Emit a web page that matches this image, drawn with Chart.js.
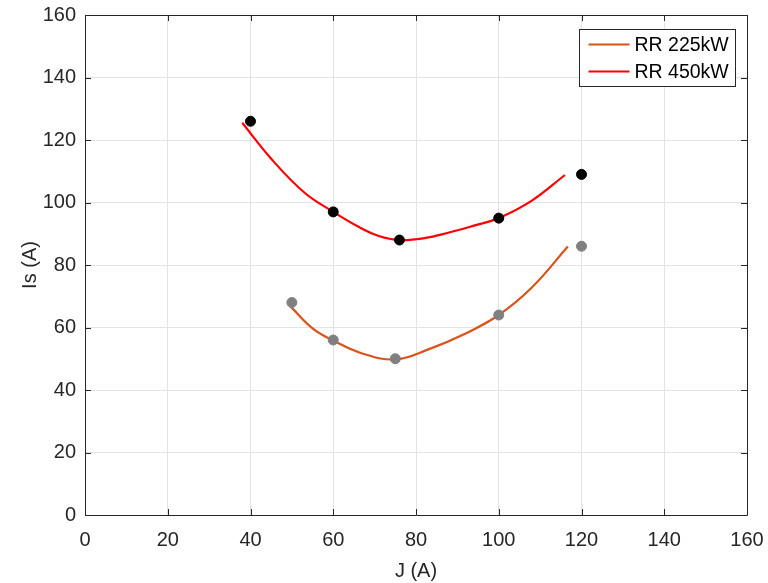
<!DOCTYPE html>
<html>
<head>
<meta charset="utf-8">
<script src="https://cdn.jsdelivr.net/npm/chart.js@4/dist/chart.umd.min.js"></script>
<style>
  html, body { margin: 0; padding: 0; background: #fff; }
  #wrap { width: 768px; height: 583px; }
</style>
</head>
<body>
<div id="wrap"><canvas id="myChart" width="768" height="583"></canvas></div>
<script>
// measured points
let j450 = [40, 60, 76, 100, 120]
let is450 = [126, 97, 88, 95, 109]
let j225 = [50, 60, 75, 100, 120]
let is225 = [68, 56, 50, 64, 86]

// fitted curves
let fitJ450 = [38, 45, 53, 60, 66, 71, 76, 82, 88, 94, 100, 108, 116]
let fitIs450 = [125.5, 114, 103.2, 97, 92.3, 89.3, 88, 88.6, 90.4, 92.6, 95, 100.6, 108.8]
let fitJ225 = [49.5, 55, 60, 67, 75, 83, 92, 100, 108, 116.7]
let fitIs225 = [67, 59.7, 55.8, 51.7, 49.8, 53, 58.1, 64, 72.8, 85.9]

let xTicks = [0, 20, 40, 60, 80, 100, 120, 140, 160]
let yTicks = [0, 20, 40, 60, 80, 100, 120, 140, 160]

let names = ["RR 225kW", "RR 450kW"]
let axisColor = "#262626"
let font = "'Liberation Sans', Arial, sans-serif"

let pairs = (xs, ys) => xs.map((x, i) => ({ x: x, y: ys[i] }))

// labels may hang over the plot edge, so drop the extra room chart.js keeps for them
let noOverhang = function (s) {
    s.paddingTop = 0
    s.paddingBottom = 0
    s.paddingLeft = 0
    s.paddingRight = 0
}

// box, inward ticks and the legend, like the original figure
let frame = {
    id: "frame",
    afterDatasetsDraw(chart) {
        let c = chart.ctx
        let a = chart.chartArea
        let xs = chart.scales.x
        let ys = chart.scales.y
        c.save()
        c.strokeStyle = axisColor
        c.lineWidth = 1
        c.beginPath()
        c.rect(Math.round(a.left) + 0.5, Math.round(a.top) + 0.5,
            Math.round(a.right - a.left), Math.round(a.bottom - a.top))
        c.stroke()
        c.beginPath()
        xTicks.forEach((v) => {
            let px = Math.round(xs.getPixelForValue(v)) + 0.5
            c.moveTo(px, a.bottom); c.lineTo(px, a.bottom - 6)
            c.moveTo(px, a.top); c.lineTo(px, a.top + 6)
        })
        yTicks.forEach((v) => {
            let py = Math.round(ys.getPixelForValue(v)) + 0.5
            c.moveTo(a.left, py); c.lineTo(a.left + 6, py)
            c.moveTo(a.right, py); c.lineTo(a.right - 6, py)
        })
        c.stroke()

        // legend
        let lines = chart.data.datasets.filter((d) => d.inLegend)
        let bx = Math.round(a.right) - 167.5
        let by = Math.round(a.top) + 14.5
        let bw = 156
        let bh = 57
        c.fillStyle = "#fff"
        c.fillRect(bx, by, bw, bh)
        c.strokeStyle = axisColor
        c.strokeRect(bx, by, bw, bh)
        c.font = "19.5px " + font
        c.textBaseline = "middle"
        lines.forEach((d, i) => {
            let ly = by + 15 + i * 27
            c.strokeStyle = d.borderColor
            c.lineWidth = 2
            c.beginPath()
            c.moveTo(bx + 9, ly); c.lineTo(bx + 50, ly)
            c.stroke()
            c.fillStyle = "#000"
            c.fillText(d.label, bx + 55, ly + 1)
        })
        c.restore()
    }
}

let ctx = document.getElementById("myChart")
let myChart = new Chart(ctx, {
    type: "scatter",
    data: {
        datasets: [{
            label: names[0],
            inLegend: true,
            data: pairs(fitJ225, fitIs225),
            showLine: true,
            borderColor: "#D95319",
            borderWidth: 2.2,
            pointRadius: 0,
            tension: 0.4,
            order: 2
        }, {
            label: names[1],
            inLegend: true,
            data: pairs(fitJ450, fitIs450),
            showLine: true,
            borderColor: "#FF0000",
            borderWidth: 2.2,
            pointRadius: 0,
            tension: 0.4,
            order: 2
        }, {
            label: "points 225",
            data: pairs(j225, is225),
            backgroundColor: "#808080",
            borderColor: "#808080",
            pointRadius: 5,
            order: 1
        }, {
            label: "points 450",
            data: pairs(j450, is450),
            backgroundColor: "#000",
            borderColor: "#000",
            pointRadius: 5,
            order: 1
        }]
    },
    options: {
        responsive: false,
        animation: false,
        layout: { padding: { top: 15, right: 21, left: 0, bottom: 0 } },
        plugins: {
            legend: { display: false },
            tooltip: { enabled: false }
        },
        scales: {
            x: {
                type: "linear",
                min: 0,
                max: 160,
                afterBuildTicks: (s) => { s.ticks = xTicks.map((v) => ({ value: v })) },
                afterFit: (s) => { s.height = 68; noOverhang(s) },
                grid: { color: "#e3e3e3", drawTicks: false },
                border: { display: false },
                ticks: { color: axisColor, font: { family: font, size: 20 }, padding: 13, maxRotation: 0 },
                title: { display: true, text: "J (A)", color: axisColor, font: { family: font, size: 20 }, padding: { top: 4, bottom: 0 } }
            },
            y: {
                type: "linear",
                min: 0,
                max: 160,
                afterBuildTicks: (s) => { s.ticks = yTicks.map((v) => ({ value: v })) },
                afterFit: (s) => { s.width = 85; noOverhang(s) },
                grid: { color: "#e3e3e3", drawTicks: false },
                border: { display: false },
                ticks: { color: axisColor, font: { family: font, size: 20 }, padding: 9 },
                title: { display: true, text: "Is (A)", color: axisColor, font: { family: font, size: 20 }, padding: { top: 18, bottom: 0 } }
            }
        }
    },
    plugins: [frame]
})
</script>
</body>
</html>
